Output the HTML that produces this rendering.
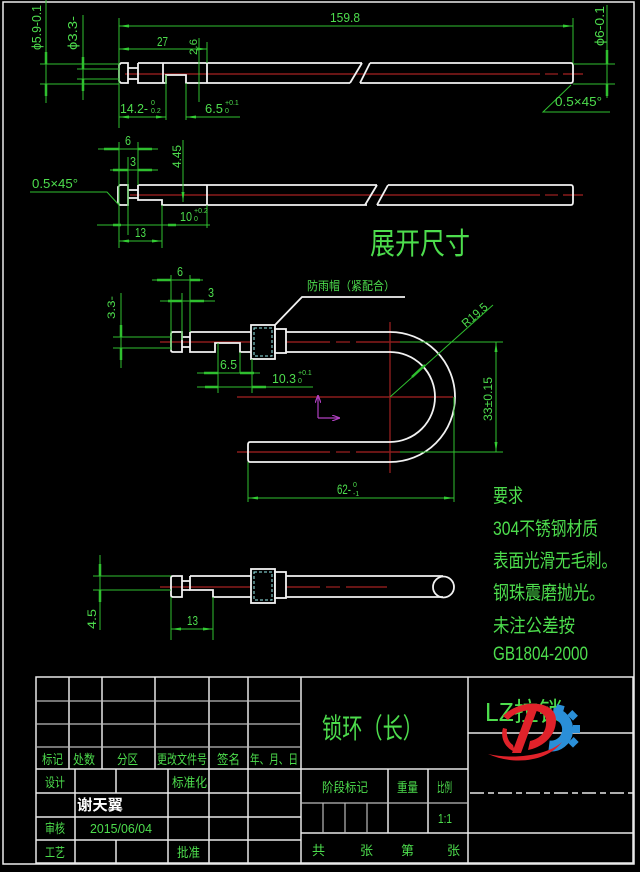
<!DOCTYPE html>
<html><head><meta charset="utf-8"><style>
html,body{margin:0;padding:0;background:#000;}
svg{display:block;}
text{font-family:"Liberation Sans","Noto Sans CJK SC",sans-serif;}
</style></head><body>
<svg width="640" height="872" viewBox="0 0 640 872" xmlns="http://www.w3.org/2000/svg">
<defs>
<marker id="a" viewBox="0 0 10 4" refX="10" refY="2" markerWidth="10" markerHeight="4" markerUnits="userSpaceOnUse" orient="auto-start-reverse"><path d="M0,0.5 L10,2 L0,3.5z" fill="#3c3"/></marker>
<marker id="p" viewBox="0 0 8 6" refX="8" refY="3" markerWidth="8" markerHeight="6" markerUnits="userSpaceOnUse" orient="auto"><path d="M0,0 L8,3 L0,6" fill="none" stroke="#b040c0" stroke-width="1.2"/></marker>
</defs>
<rect width="640" height="872" fill="#000"/>
<!-- frame -->
<rect x="3" y="2" width="631" height="862" fill="none" stroke="#eee" stroke-width="1.5"/>

<!-- ========== VIEW 1 ========== -->
<g stroke="#8a1c1c" stroke-width="1.4" fill="none">
<line x1="125" y1="74" x2="540" y2="74"/><line x1="545" y1="74" x2="558" y2="74"/><line x1="563" y1="74" x2="583" y2="74"/>
</g>
<g stroke="#f2f2f2" stroke-width="1.8" fill="none">
<path d="M121,63 H128 V83 H121 L119,81 V65 Z"/>
<path d="M128,68 H138 M128,79 H138"/>
<path d="M138,63 V83 H163 V63 M138,63 H362 M163,83 H166 V75 H186 V83 H350"/>
<path d="M207,63 V83"/>
<path d="M362,63 L350,83 M370,63 L360,83"/>
<path d="M370,63 H571 Q573,63 573,66 V80 Q573,83 571,83 H360"/>
</g>
<g stroke="#2fbf2f" stroke-width="1" fill="none">
<path d="M119,18 V128 M573,18 V63"/>
<line x1="119" y1="26" x2="573" y2="26" marker-start="url(#a)" marker-end="url(#a)"/>
<line x1="119" y1="49" x2="207" y2="49" marker-start="url(#a)" marker-end="url(#a)"/>
<path d="M207,42 V63 M199,38 V102"/>
<line x1="119" y1="117" x2="166" y2="117" marker-start="url(#a)" marker-end="url(#a)"/>
<path d="M166,75 V120 M186,83 V120"/>
<line x1="186" y1="117" x2="240" y2="117" marker-start="url(#a)"/>
<path d="M40,64 H119 M40,84 H119"/>
<line x1="46" y1="0" x2="46" y2="103"/>
<path d="M46,52 V64 M46,84 V96" stroke-width="2.5"/>
<path d="M77,69 H119 M77,79 H119"/>
<line x1="83" y1="15" x2="83" y2="100"/>
<path d="M83,57 V69 M83,79 V91" stroke-width="2.5"/>
<path d="M573,64 H615 M573,84 H615"/>
<line x1="607" y1="5" x2="607" y2="98"/>
<path d="M607,50 V64 M607,84 V96" stroke-width="2.5"/>
<path d="M610,112 H543 L571,85"/>
</g>
<g fill="#4ddd4d" font-size="13">
<text x="330" y="22" textLength="30" lengthAdjust="spacingAndGlyphs">159.8</text>
<text x="157" y="46" textLength="11" lengthAdjust="spacingAndGlyphs">27</text>
<text x="0" y="0" transform="translate(197,55) rotate(-90)" font-size="11" textLength="16" lengthAdjust="spacingAndGlyphs">2.6</text>
<text x="120" y="113" textLength="28" lengthAdjust="spacingAndGlyphs">14.2-</text>
<text x="151" y="105" font-size="7">0</text><text x="151" y="113" font-size="7">0.2</text>
<text x="205" y="113" textLength="18" lengthAdjust="spacingAndGlyphs">6.5</text>
<text x="225" y="105" font-size="7">+0.1</text><text x="225" y="113" font-size="7">0</text>
<text x="0" y="0" transform="translate(41,50) rotate(-90)" textLength="45" lengthAdjust="spacingAndGlyphs">ϕ5.9-0.1</text>
<text x="0" y="0" transform="translate(77,50) rotate(-90)" textLength="34" lengthAdjust="spacingAndGlyphs">ϕ3.3-</text>
<text x="0" y="0" transform="translate(604,46) rotate(-90)" textLength="40" lengthAdjust="spacingAndGlyphs">ϕ6-0.1</text>
<text x="555" y="106" textLength="47" lengthAdjust="spacingAndGlyphs">0.5×45°</text>
</g>

<!-- ========== VIEW 2 ========== -->
<g stroke="#8a1c1c" stroke-width="1.4" fill="none">
<line x1="130" y1="195" x2="540" y2="195"/><line x1="545" y1="195" x2="558" y2="195"/><line x1="563" y1="195" x2="583" y2="195"/>
</g>
<g stroke="#f2f2f2" stroke-width="1.8" fill="none">
<path d="M120,185 H128 V205 H120 L118,203 V187 Z"/>
<path d="M128,190 H138 M128,198 H138"/>
<path d="M138,185 V200 H162 V205 H367 M138,185 H377"/>
<path d="M207,185 V205"/>
<path d="M377,185 L365,205 M388,185 L377,205"/>
<path d="M388,185 H571 Q573,185 573,188 V202 Q573,205 571,205 H377"/>
</g>
<g stroke="#2fbf2f" stroke-width="1" fill="none">
<line x1="98" y1="149" x2="158" y2="149"/>
<path d="M104,149 H119 M138,149 H152" stroke-width="2.5"/>
<path d="M119,142 V248 M138,142 V185 M128,157 V235"/>
<line x1="110" y1="170" x2="158" y2="170"/>
<path d="M113,170 H128 M138,170 H152" stroke-width="2.5"/>
<line x1="183" y1="140" x2="183" y2="202" marker-end="url(#a)"/>
<line x1="97" y1="225" x2="210" y2="225"/>
<path d="M113,225 H121 M168,225 H176" stroke-width="2.5"/>
<path d="M207,205 V228 M162,205 V248"/>
<line x1="119" y1="241" x2="162" y2="241" marker-start="url(#a)" marker-end="url(#a)"/>
<path d="M30,192 H107 L119,205"/>
</g>
<g fill="#4ddd4d" font-size="13">
<text x="125" y="145" textLength="6" lengthAdjust="spacingAndGlyphs">6</text>
<text x="130" y="166" textLength="6" lengthAdjust="spacingAndGlyphs">3</text>
<text x="0" y="0" transform="translate(181,168) rotate(-90)" font-size="12" textLength="23" lengthAdjust="spacingAndGlyphs">4.45</text>
<text x="180" y="221" textLength="12" lengthAdjust="spacingAndGlyphs">10</text>
<text x="194" y="213" font-size="7">+0.2</text><text x="194" y="221" font-size="7">0</text>
<text x="135" y="237" textLength="11" lengthAdjust="spacingAndGlyphs">13</text>
<text x="32" y="188" textLength="46" lengthAdjust="spacingAndGlyphs">0.5×45°</text>
<text x="370" y="254" font-size="30" textLength="100" lengthAdjust="spacingAndGlyphs">展开尺寸</text>
</g>

<!-- ========== VIEW 3 ========== -->
<g stroke="#8a1c1c" stroke-width="1.4" fill="none">
<line x1="160" y1="342" x2="330" y2="342"/><line x1="336" y1="342" x2="350" y2="342"/><line x1="356" y1="342" x2="400" y2="342"/>
<line x1="237" y1="452" x2="330" y2="452"/><line x1="336" y1="452" x2="350" y2="452"/><line x1="356" y1="452" x2="400" y2="452"/>
<line x1="390" y1="322" x2="390" y2="473"/>
<line x1="237" y1="397" x2="453" y2="397"/>
</g>
<g stroke="#f2f2f2" stroke-width="1.8" fill="none">
<path d="M173,332 H182 V352 H173 Q171,352 171,350 V334 Q171,332 173,332 Z"/>
<path d="M182,337 H190 M182,347 H190"/>
<path d="M190,332 V352 H215 V343 H240 V352 H390 M190,332 H390"/>
<path d="M390,332 A65,65 0 0 1 390,462 M390,352 A45,45 0 0 1 390,442"/>
<path d="M390,442 H250 Q248,442 248,445 V459 Q248,462 250,462 H390"/>
<rect x="251" y="325" width="24" height="34" fill="#000"/>
<rect x="275" y="329" width="11" height="24" fill="#000"/>
<path d="M275,325 L302,297 H405"/>
</g>
<rect x="254" y="328" width="18" height="28" fill="none" stroke="#9ee" stroke-width="1" stroke-dasharray="3,2"/>
<g stroke="#2fbf2f" stroke-width="1" fill="none">
<path d="M400,342 H503 M400,452 H503"/>
<line x1="496" y1="342" x2="496" y2="452" marker-start="url(#a)" marker-end="url(#a)"/>
<line x1="390" y1="397" x2="493" y2="305"/>
<path d="M412,377 L425,365" stroke-width="2.5"/>
<path d="M248,462 V502 M454,397 V502"/>
<line x1="248" y1="498" x2="454" y2="498" marker-start="url(#a)" marker-end="url(#a)"/>
<line x1="152" y1="280" x2="203" y2="280"/>
<path d="M157,280 H171 M190,280 H200" stroke-width="2.5"/>
<path d="M171,275 V350 M190,275 V332 M182,293 V340"/>
<line x1="160" y1="301" x2="215" y2="301"/>
<path d="M168,301 H182 M190,301 H204" stroke-width="2.5"/>
<line x1="121" y1="293" x2="121" y2="368"/>
<path d="M121,325 V337 M121,348 V360" stroke-width="2.5"/>
<path d="M113,337 H171 M113,348 H171"/>
<line x1="197" y1="373" x2="260" y2="373"/>
<path d="M204,373 H218 M240,373 H254" stroke-width="2.5"/>
<path d="M218,343 V393 M240,352 V373 M252,359 V393"/>
<line x1="197" y1="387" x2="313" y2="387"/>
<path d="M205,387 H218 M252,387 H266" stroke-width="2.5"/>
</g>
<g stroke="#b040c0" stroke-width="1.2" fill="none">
<line x1="318" y1="418" x2="318" y2="395" marker-end="url(#p)"/>
<line x1="318" y1="418" x2="340" y2="418" marker-end="url(#p)"/>
</g>
<g fill="#4ddd4d" font-size="13">
<text x="307" y="290" font-size="12" textLength="88" lengthAdjust="spacingAndGlyphs">防雨帽（紧配合）</text>
<text x="0" y="0" transform="translate(466,328) rotate(-41)" font-size="12" textLength="30" lengthAdjust="spacingAndGlyphs">R19.5</text>
<text x="0" y="0" transform="translate(492,421) rotate(-90)" font-size="12" textLength="44" lengthAdjust="spacingAndGlyphs">33±0.15</text>
<text x="337" y="494" font-size="14" textLength="14" lengthAdjust="spacingAndGlyphs">62-</text>
<text x="353" y="487" font-size="7">0</text><text x="353" y="496" font-size="7">-1</text>
<text x="177" y="276" textLength="6" lengthAdjust="spacingAndGlyphs">6</text>
<text x="208" y="297" textLength="6" lengthAdjust="spacingAndGlyphs">3</text>
<text x="0" y="0" transform="translate(115,319) rotate(-90)" font-size="11" textLength="23" lengthAdjust="spacingAndGlyphs">3.3-</text>
<text x="220" y="369" textLength="17" lengthAdjust="spacingAndGlyphs">6.5</text>
<text x="272" y="383" textLength="24" lengthAdjust="spacingAndGlyphs">10.3</text>
<text x="298" y="375" font-size="7">+0.1</text><text x="298" y="383" font-size="7">0</text>
</g>

<!-- ========== VIEW 4 ========== -->
<g stroke="#8a1c1c" stroke-width="1.4" fill="none">
<line x1="160" y1="587" x2="320" y2="587"/><line x1="326" y1="587" x2="340" y2="587"/><line x1="346" y1="587" x2="387" y2="587"/>
</g>
<g stroke="#f2f2f2" stroke-width="1.8" fill="none">
<path d="M173,576 H182 V597 H173 Q171,597 171,595 V578 Q171,576 173,576 Z"/>
<path d="M182,581 H190 M182,590 H190"/>
<path d="M190,576 V590 H213 V597 H443 M190,576 H443"/>
<circle cx="443.5" cy="587" r="10.5"/>
<rect x="251" y="569" width="24" height="34" fill="#000"/>
<rect x="275" y="572" width="11" height="26" fill="#000"/>
</g>
<rect x="254" y="572" width="18" height="28" fill="none" stroke="#9ee" stroke-width="1" stroke-dasharray="3,2"/>
<g stroke="#2fbf2f" stroke-width="1" fill="none">
<line x1="100" y1="555" x2="100" y2="630"/>
<path d="M100,564 V576 M100,590 V602" stroke-width="2.5"/>
<path d="M93,576 H171 M93,590 H171"/>
<path d="M171,597 V640 M213,597 V640"/>
<line x1="171" y1="629" x2="213" y2="629" marker-start="url(#a)" marker-end="url(#a)"/>
</g>
<g fill="#4ddd4d" font-size="13">
<text x="0" y="0" transform="translate(96,629) rotate(-90)" font-size="12" textLength="20" lengthAdjust="spacingAndGlyphs">4.5</text>
<text x="187" y="625" textLength="11" lengthAdjust="spacingAndGlyphs">13</text>
</g>

<!-- ========== REQUIREMENTS ========== -->
<g fill="#4ddd4d" font-size="19">
<text x="493" y="502" textLength="30" lengthAdjust="spacingAndGlyphs">要求</text>
<text x="493" y="535" textLength="105" lengthAdjust="spacingAndGlyphs">304不锈钢材质</text>
<text x="493" y="567" textLength="124" lengthAdjust="spacingAndGlyphs">表面光滑无毛刺。</text>
<text x="493" y="599" textLength="112" lengthAdjust="spacingAndGlyphs">钢珠震磨抛光。</text>
<text x="493" y="632" textLength="82" lengthAdjust="spacingAndGlyphs">未注公差按</text>
<text x="493" y="660" textLength="95" lengthAdjust="spacingAndGlyphs">GB1804-2000</text>
</g>

<!-- ========== TITLE BLOCK ========== -->
<g stroke="#e8e8e8" stroke-width="1.5" fill="none">
<rect x="36" y="677" width="597" height="186"/>
<path d="M301,677 V863 M468,677 V863"/>
<path d="M36,769 H468"/>
<path d="M36,793 H301 M36,817 H301 M36,840 H301"/>
<path d="M69,677 V769 M102,677 V769 M155,677 V769 M209,677 V863 M248,677 V863"/>
<path d="M75,769 V863 M168,769 V863 M116,769 V793 M116,840 V863"/>
<path d="M301,833 H468 M388,769 V833 M428,769 V833"/>
<path d="M468,733 H633 M468,833 H633"/>
</g>
<g stroke="#bbb" stroke-width="1.2" fill="none">
<path d="M36,701 H301 M36,724 H301 M36,747 H301"/>
<path d="M301,803 H468 M323,803 V833 M345,803 V833 M367,803 V833"/>
</g>
<path d="M470,793 H633" stroke="#e8e8e8" stroke-width="1.5" stroke-dasharray="14,4,6,4"/>
<rect x="452" y="771" width="15" height="22" fill="#000"/>
<g fill="#4ddd4d" font-size="13">
<text x="42" y="764" textLength="21" lengthAdjust="spacingAndGlyphs">标记</text>
<text x="73" y="764" textLength="22" lengthAdjust="spacingAndGlyphs">处数</text>
<text x="117" y="764" textLength="21" lengthAdjust="spacingAndGlyphs">分区</text>
<text x="157" y="764" textLength="50" lengthAdjust="spacingAndGlyphs">更改文件号</text>
<text x="217" y="764" textLength="23" lengthAdjust="spacingAndGlyphs">签名</text>
<text x="250" y="764" textLength="48" lengthAdjust="spacingAndGlyphs">年、月、日</text>
<text x="45" y="787" textLength="20" lengthAdjust="spacingAndGlyphs">设计</text>
<text x="172" y="787" textLength="35" lengthAdjust="spacingAndGlyphs">标准化</text>
<text x="45" y="833" textLength="20" lengthAdjust="spacingAndGlyphs">审核</text>
<text x="90" y="833" textLength="62" lengthAdjust="spacingAndGlyphs">2015/06/04</text>
<text x="45" y="857" textLength="20" lengthAdjust="spacingAndGlyphs">工艺</text>
<text x="177" y="857" textLength="23" lengthAdjust="spacingAndGlyphs">批准</text>
<text x="322" y="738" font-size="28" textLength="101" lengthAdjust="spacingAndGlyphs">锁环（长）</text>
<text x="485" y="721" font-size="26" textLength="78" lengthAdjust="spacingAndGlyphs">LZ拉锁</text>
<text x="322" y="792" textLength="46" lengthAdjust="spacingAndGlyphs">阶段标记</text>
<text x="397" y="792" textLength="21" lengthAdjust="spacingAndGlyphs">重量</text>
<text x="437" y="792" textLength="15" lengthAdjust="spacingAndGlyphs">比例</text>
<text x="438" y="823" textLength="14" lengthAdjust="spacingAndGlyphs">1:1</text>
<text x="312" y="855">共</text>
<text x="360" y="855">张</text>
<text x="401" y="855">第</text>
<text x="447" y="855">张</text>
</g>
<text x="77" y="810" fill="#fff" font-size="15" font-weight="bold" textLength="46" lengthAdjust="spacingAndGlyphs">谢天翼</text>

<!-- logo -->
<g>
<path d="M553,713 A16,16 0 1 1 549,746" fill="none" stroke="#2a8fd8" stroke-width="11"/>
<g fill="#2a8fd8">
<rect x="556" y="705" width="8" height="7" transform="rotate(15,560,708)"/>
<rect x="569" y="712" width="8" height="7" transform="rotate(45,573,715)"/>
<rect x="573" y="725" width="7" height="8"/>
<rect x="569" y="739" width="8" height="7" transform="rotate(-45,573,742)"/>
</g>
<path d="M503,716 C520,698 556,700 556,720 C556,738 540,748 528,750 L530,741 C542,738 547,730 546,720 C545,708 520,706 508,720 Z" fill="#e0222a"/>
<path d="M528,710 L537,710 L521,753 L512,753 Z" fill="#e0222a"/>
<path d="M503,728 C500,738 505,748 515,752 L513,745 C508,742 506,735 507,729 Z" fill="#e0222a"/>
<path d="M488,754 C515,766 548,761 562,742 C548,755 515,760 488,754 Z" fill="#e0222a"/>
</g>
</svg>
</body></html>
